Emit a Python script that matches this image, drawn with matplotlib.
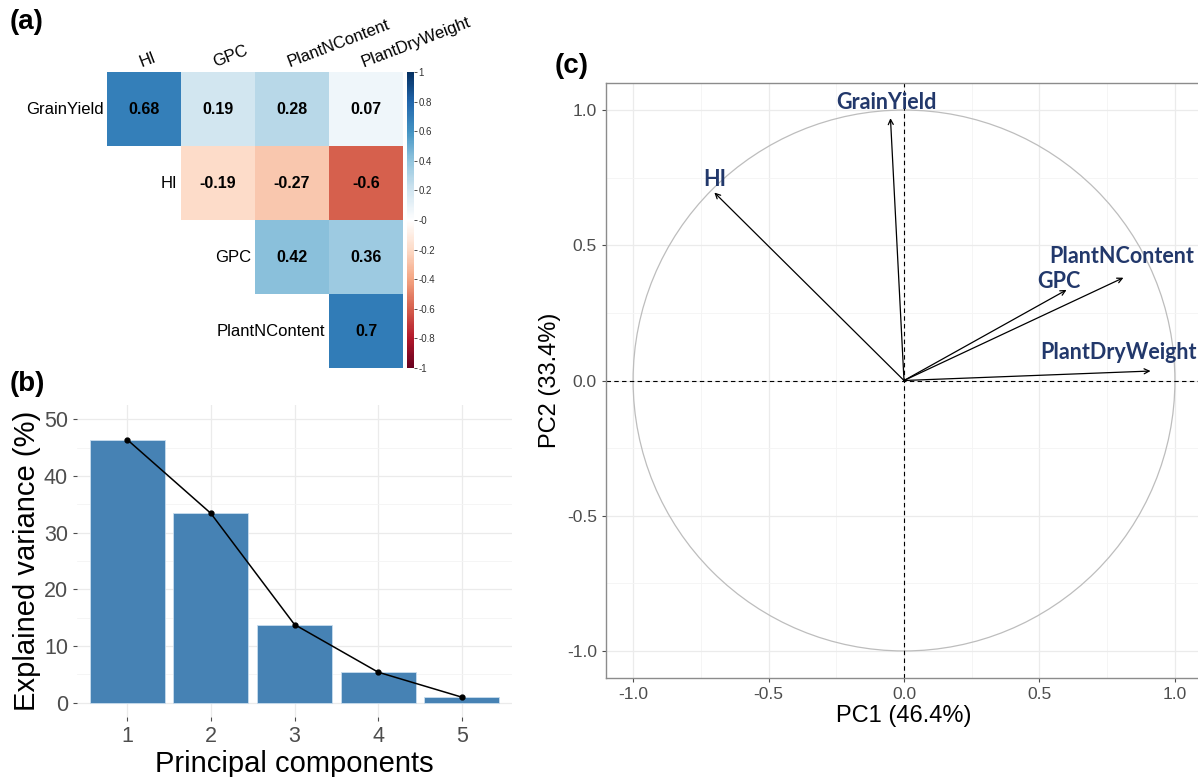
import numpy as np
import matplotlib
matplotlib.use("Agg")
import matplotlib.pyplot as plt
from matplotlib.colors import LinearSegmentedColormap
from matplotlib.patches import Circle
from matplotlib.ticker import MultipleLocator

plt.rcParams['font.family'] = ['Liberation Sans', 'DejaVu Sans']
plt.rcParams['axes.unicode_minus'] = False

# (a) correlation matrix (upper triangle)
row_names = ["GrainYield", "HI", "GPC", "PlantNContent"]
col_names = ["HI", "GPC", "PlantNContent", "PlantDryWeight"]
corr = np.array([
    [0.68, 0.19, 0.28, 0.07],
    [np.nan, -0.19, -0.27, -0.6],
    [np.nan, np.nan, 0.42, 0.36],
    [np.nan, np.nan, np.nan, 0.7],
])

# (b) scree plot
pcs = [1, 2, 3, 4, 5]
explained = [46.4, 33.4, 13.8, 5.4, 1.0]

# (c) variable loadings on PC1 / PC2
var_names = ["GrainYield", "HI", "GPC", "PlantNContent", "PlantDryWeight"]
pc1 = [-0.05, -0.70, 0.60, 0.81, 0.91]
pc2 = [0.97, 0.695, 0.335, 0.38, 0.035]
# label anchor points (layout)
lab_x = [-0.065, -0.70, 0.572, 0.805, 0.79]
lab_y = [1.027, 0.745, 0.365, 0.46, 0.105]

W, H = 1198, 777
fig = plt.figure(figsize=(W / 100, H / 100), dpi=100)

def box(l, t, r, b):
    return [l / W, 1 - b / H, (r - l) / W, (b - t) / H]

# ---------- (a) ----------
cmap = LinearSegmentedColormap.from_list("rdbu", [
    "#67001F", "#B2182B", "#D6604D", "#F4A582", "#FDDBC7", "#FFFFFF",
    "#D1E5F0", "#92C5DE", "#4393C3", "#2166AC", "#053061"])
axa = fig.add_axes(box(107, 72, 403, 368))
im = axa.imshow(np.ma.masked_invalid(corr), cmap=cmap, vmin=-1, vmax=1,
                aspect="auto", interpolation="nearest")
axa.set_xlim(-0.5, 3.5)
axa.set_ylim(3.5, -0.5)
axa.axis("off")
for i in range(4):
    for j in range(4):
        v = corr[i, j]
        if not np.isnan(v):
            axa.text(j, i, f"{v:g}", ha="center", va="center",
                     fontsize=11.5, fontweight="bold", color="black")
for j, name in enumerate(col_names):
    axa.text(j - 0.02, -0.53, name, rotation=21, rotation_mode="anchor",
             ha="left", va="bottom", fontsize=12, clip_on=False)
for i, name in enumerate(row_names):
    axa.text(i - 0.55, i, name, ha="right", va="center", fontsize=12,
             clip_on=False)

cax = fig.add_axes(box(407, 72, 414, 368))
cb = fig.colorbar(im, cax=cax, ticks=np.round(np.arange(-1, 1.01, 0.2), 1))
cb.outline.set_linewidth(0)
cb.ax.set_yticklabels([f"{t:g}" for t in np.round(np.arange(-1, 1.01, 0.2), 1)])
cb.ax.tick_params(labelsize=7, length=2, width=0.6, colors="#333333", pad=1)

fig.text(10 / W, 1 - 22 / H, "(a)", fontsize=20, fontweight="bold",
         va="center", ha="left")

# ---------- (b) ----------
axb = fig.add_axes(box(77, 405, 512, 717))
axb.bar(pcs, explained, width=0.9, color="#4682B4", edgecolor="#C9DDEE",
        linewidth=0.6, zorder=2)
axb.plot(pcs, explained, color="black", lw=1.1, marker="o", ms=3.5, zorder=3)
axb.set_xlim(0.4, 5.6)
axb.set_ylim(-2.5, 52.5)
axb.set_xticks(pcs)
axb.yaxis.set_major_locator(MultipleLocator(10))
axb.yaxis.set_minor_locator(MultipleLocator(5))
axb.grid(which="major", color="#EBEBEB", lw=0.9, zorder=0)
axb.grid(which="minor", axis="y", color="#F4F4F4", lw=0.6, zorder=0)
axb.set_axisbelow(True)
for s in axb.spines.values():
    s.set_visible(False)
axb.tick_params(axis="both", which="major", labelsize=15.5, labelcolor="#4D4D4D",
                length=3, color="#4D4D4D", width=0.8)
axb.tick_params(axis="both", which="minor", length=0)
axb.set_xlabel("Principal components", fontsize=21, labelpad=2)
axb.set_ylabel("Explained variance (%)", fontsize=21, labelpad=2)

fig.text(10 / W, 1 - 384 / H, "(b)", fontsize=20, fontweight="bold",
         va="center", ha="left")

# ---------- (c) ----------
axc = fig.add_axes(box(606, 83, 1202, 678))
axc.set_xlim(-1.1, 1.1)
axc.set_ylim(-1.1, 1.1)
axc.xaxis.set_major_locator(MultipleLocator(0.5))
axc.yaxis.set_major_locator(MultipleLocator(0.5))
axc.xaxis.set_minor_locator(MultipleLocator(0.25))
axc.yaxis.set_minor_locator(MultipleLocator(0.25))
axc.grid(which="major", color="#EBEBEB", lw=0.9)
axc.grid(which="minor", color="#F4F4F4", lw=0.6)
axc.set_axisbelow(True)
for s in axc.spines.values():
    s.set_color("#8C8C8C")
    s.set_linewidth(1.0)
axc.tick_params(axis="both", which="major", labelsize=12.5, labelcolor="#4D4D4D",
                length=3, color="#4D4D4D", width=0.8)
axc.tick_params(axis="both", which="minor", length=0)
axc.add_patch(Circle((0, 0), 1.0, fill=False, edgecolor="#BDBDBD", lw=0.9))
axc.axhline(0, color="black", ls=(0, (4, 3)), lw=0.8)
axc.axvline(0, color="black", ls=(0, (4, 3)), lw=0.8)
for x, y in zip(pc1, pc2):
    axc.annotate("", xy=(x, y), xytext=(0, 0),
                 arrowprops=dict(arrowstyle="->", color="black", lw=0.9,
                                 mutation_scale=9, shrinkA=0, shrinkB=0))
for name, x, y in zip(var_names, lab_x, lab_y):
    axc.text(x, y, name, ha="center", va="center", fontsize=15.5,
             fontweight="bold", color="#22386B", family=["Lato", "DejaVu Sans"],
             clip_on=False)
axc.set_xlabel("PC1 (46.4%)", fontsize=17, labelpad=2)
axc.set_ylabel("PC2 (33.4%)", fontsize=17, labelpad=4)

fig.text(555 / W, 1 - 66 / H, "(c)", fontsize=20, fontweight="bold",
         va="center", ha="left")

fig.savefig("out.png", dpi=100, facecolor="white")
